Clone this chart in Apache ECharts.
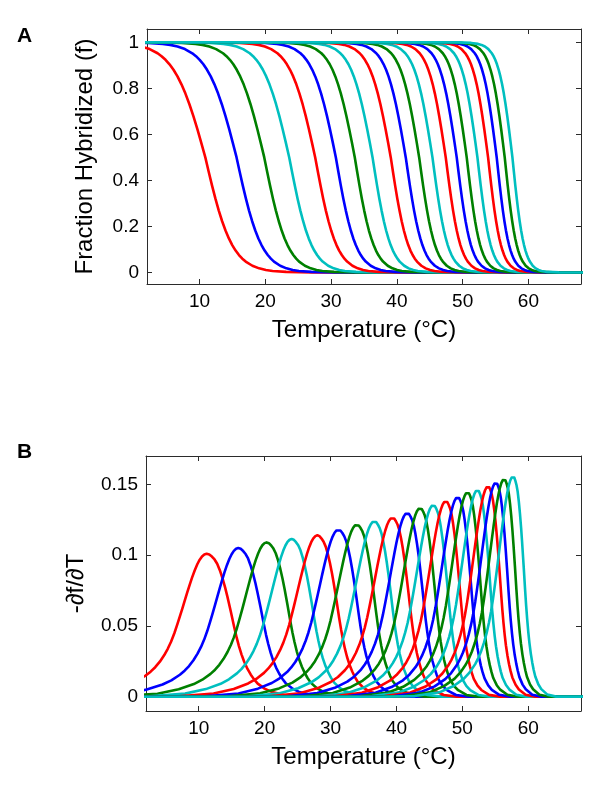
<!DOCTYPE html>
<html>
<head>
<meta charset="utf-8">
<script src="https://cdn.jsdelivr.net/npm/echarts@6/dist/echarts.min.js"></script>
<style>
html,body{margin:0;padding:0;background:#fff;}
#chart{width:600px;height:790px;}
</style>
</head>
<body>
<div id="chart"></div>
<script>
// ---------- data ----------
// Panel A: temperature at f = 0.5 for each of the 20 curves
const meltTempA = [10.87, 15.62, 19.83, 23.63, 27.58, 30.72, 33.6, 36.3, 39.07, 41.35,
                   43.39, 45.41, 47.43, 49.1, 50.62, 52.25, 53.87, 55.18, 56.4, 57.57];
// Panel A: transition width (degC) of each curve
const widthA = [2.2, 2.04, 1.90, 1.82, 1.74, 1.63, 1.54, 1.48, 1.43, 1.36,
                1.29, 1.25, 1.20, 1.16, 1.10, 1.08, 1.05, 1.01, 0.98, 0.95];
// Panel A: shared melting profile (offset in widths -> f)
const profileOffsetA = [-8, -6, -5, -4.5, -4, -3.5, -3, -2.75, -2.5, -2.25, -2, -1.75, -1.5, -1.25, -1, -0.75, -0.5, -0.25, 0,
                        0.25, 0.5, 0.75, 1, 1.25, 1.5, 1.75, 2, 2.25, 2.5, 2.75, 3, 3.5, 4, 4.5, 5, 6, 8];
const profileFractionA = [0.9997, 0.9975, 0.9933, 0.989, 0.982, 0.9707, 0.9526, 0.9399, 0.9241, 0.9047, 0.8808, 0.852, 0.8176, 0.7773, 0.7311, 0.6792, 0.6225, 0.5622, 0.5,
                          0.4378, 0.3775, 0.3208, 0.2689, 0.2227, 0.1824, 0.148, 0.1192, 0.0953, 0.0759, 0.0601, 0.0474, 0.0293, 0.018, 0.011, 0.0067, 0.0025, 0.0003];
const sideScaleA = { low: 1.1, high: 0.93 };

// Panel B: peak temperature and peak height of each curve
const peakTempB = [11.2, 16.0, 20.3, 24.1, 28.0, 31.2, 34.0, 36.65, 39.4, 41.65,
                   43.6, 45.6, 47.5, 49.3, 50.8, 52.3, 53.9, 55.1, 56.35, 57.7];
const peakHeightB = [0.101, 0.105, 0.109, 0.1114, 0.114, 0.118, 0.1216, 0.124, 0.1265, 0.1298,
                     0.1333, 0.1354, 0.1382, 0.141, 0.1444, 0.146, 0.1486, 0.1512, 0.1537, 0.1556];
// Panel B: relative width of the low-T and high-T flanks (first curve = 1)
const widthLowB = [1, 0.958, 0.920, 0.898, 0.875, 0.843, 0.815, 0.798, 0.781, 0.759,
                   0.737, 0.724, 0.708, 0.693, 0.675, 0.667, 0.654, 0.642, 0.630, 0.622];
const widthHighB = [1, 0.928, 0.863, 0.828, 0.792, 0.741, 0.699, 0.673, 0.648, 0.616,
                    0.585, 0.568, 0.546, 0.525, 0.502, 0.491, 0.475, 0.459, 0.445, 0.434];
// Panel B: peak profile (offset degC -> fraction of peak)
const profileLowOffsetB = [-32, -24, -18, -14.5, -12, -10.6, -9.25, -8.5, -7.8, -7.1, -6.45, -5.9, -5.4, -4.9, -4.45, -4.05, -3.7, -3.3, -2.93, -2.55, -2.2, -1.8, -1.4, -1.05, -0.7, -0.35, 0];
const profileLowValueB  = [0.0003, 0.0034, 0.0204, 0.049, 0.0827, 0.111, 0.1484, 0.1757, 0.2071, 0.2459, 0.2902, 0.3357, 0.385, 0.4442, 0.5062, 0.5635, 0.6152, 0.6755, 0.731, 0.7864, 0.8348, 0.885, 0.9283, 0.9588, 0.9814, 0.9953, 1];
const profileHighOffsetB = [0.4, 0.8, 1.2, 1.6, 2.0, 2.4, 2.8, 3.15, 3.65, 4.17, 4.55, 4.9, 5.3, 5.7, 6.2, 6.7, 7.2, 7.75, 8.8, 9.85, 12, 15];
const profileHighValueB  = [0.995, 0.98, 0.96, 0.93, 0.885, 0.83, 0.765, 0.70, 0.60, 0.49, 0.415, 0.355, 0.295, 0.245, 0.195, 0.155, 0.122, 0.092, 0.057, 0.035, 0.01, 0.001];

// axis ticks
const xTicks = [10, 20, 30, 40, 50, 60];
const yTicksA = [0, 0.2, 0.4, 0.6, 0.8, 1];
const yTickLabelsA = ['0', '0.2', '0.4', '0.6', '0.8', '1'];
const yTicksB = [0, 0.05, 0.1, 0.15];
const yTickLabelsB = ['0', '0.05', '0.1', '0.15'];

const lineColors = ['#ff0000', '#0000ff', '#008000', '#00bfbf'];
const FONT = '"Liberation Sans", Arial, Helvetica, sans-serif';
const AX = '#2b2b2b';

// ---------- build series ----------
const series = [];
for (let i = 0; i < meltTempA.length; i++) {
  const ptsA = [[-60, 1]];
  profileOffsetA.forEach((u, k) => {
    const w = widthA[i] * (u < 0 ? sideScaleA.low : sideScaleA.high);
    ptsA.push([meltTempA[i] + u * w, profileFractionA[k]]);
  });
  ptsA.push([130, 0]);
  series.push({
    type: 'line', xAxisIndex: 0, yAxisIndex: 0, data: ptsA,
    showSymbol: false, smooth: false, clip: true,
    lineStyle: { width: 2.6, color: lineColors[i % 4], join: 'round', cap: 'round' },
    silent: true, animation: false
  });
}
for (let i = 0; i < peakTempB.length; i++) {
  const ptsB = [[-60, 0]];
  profileLowOffsetB.forEach((d, k) => {
    ptsB.push([peakTempB[i] + d * widthLowB[i], peakHeightB[i] * profileLowValueB[k]]);
  });
  profileHighOffsetB.forEach((d, k) => {
    ptsB.push([peakTempB[i] + d * widthHighB[i], peakHeightB[i] * profileHighValueB[k]]);
  });
  ptsB.push([130, 0]);
  series.push({
    type: 'line', xAxisIndex: 2, yAxisIndex: 2, data: ptsB,
    showSymbol: false, smooth: false, clip: true,
    lineStyle: { width: 2.6, color: lineColors[i % 4], join: 'round', cap: 'round' },
    silent: true, animation: false
  });
}

function xAxisDef(grid, position, withLabels) {
  return {
    type: 'value', gridIndex: grid, position: position, min: 2, max: 68,
    axisLine: { show: true, onZero: false, lineStyle: { color: AX, width: 1 } },
    axisTick: { show: true, inside: true, length: 5, customValues: xTicks, lineStyle: { color: AX } },
    axisLabel: withLabels ? { show: true, customValues: xTicks, margin: 8, color: '#000', fontSize: 19, fontFamily: FONT } : { show: false },
    splitLine: { show: false },
    name: withLabels ? 'Temperature (\u00B0C)' : '',
    nameLocation: 'middle', nameGap: 34,
    nameTextStyle: { color: '#000', fontSize: 24, fontFamily: FONT }
  };
}
function yAxisDef(grid, position, min, max, ticks, labels, name, gap, withLabels) {
  return {
    type: 'value', gridIndex: grid, position: position, min: min, max: max,
    axisLine: { show: true, onZero: false, lineStyle: { color: AX, width: 1 } },
    axisTick: { show: true, inside: true, length: 5, customValues: ticks, lineStyle: { color: AX } },
    axisLabel: withLabels ? {
      show: true, customValues: ticks, margin: 8, color: '#000', fontSize: 19, fontFamily: FONT,
      formatter: function (v) {
        for (let k = 0; k < ticks.length; k++) if (Math.abs(ticks[k] - v) < 1e-9) return labels[k];
        return '';
      }
    } : { show: false },
    splitLine: { show: false },
    name: withLabels ? name : '',
    nameLocation: 'middle', nameGap: gap, nameRotate: 90,
    nameTextStyle: { color: '#000', fontSize: 24, fontFamily: FONT }
  };
}

const chart = echarts.init(document.getElementById('chart'), null, { renderer: 'canvas' });
chart.setOption({
  animation: false,
  backgroundColor: '#ffffff',
  textStyle: { fontFamily: FONT },
  grid: [
    { left: 147, top: 29, width: 434, height: 255, containLabel: false },
    { left: 146, top: 456, width: 435, height: 255, containLabel: false }
  ],
  xAxis: [
    xAxisDef(0, 'bottom', true),
    xAxisDef(0, 'top', false),
    xAxisDef(1, 'bottom', true),
    xAxisDef(1, 'top', false)
  ],
  yAxis: [
    yAxisDef(0, 'left', -0.05, 1.058, yTicksA, yTickLabelsA, 'Fraction Hybridized (f)', 50, true),
    yAxisDef(0, 'right', -0.05, 1.058, yTicksA, yTickLabelsA, '', 0, false),
    yAxisDef(1, 'left', -0.01, 0.17, yTicksB, yTickLabelsB, '-\u2202f/\u2202T', 58, true),
    yAxisDef(1, 'right', -0.01, 0.17, yTicksB, yTickLabelsB, '', 0, false)
  ],
  graphic: [
    { type: 'text', left: 17, top: 26, style: { text: 'A', font: 'bold 21px ' + FONT, fill: '#000' } },
    { type: 'text', left: 17, top: 442, style: { text: 'B', font: 'bold 21px ' + FONT, fill: '#000' } }
  ],
  series: series
});
</script>
</body>
</html>
